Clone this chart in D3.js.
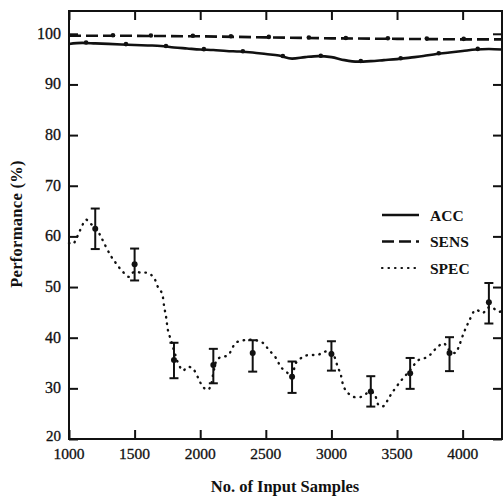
<!DOCTYPE html>
<html>
<head>
<meta charset="utf-8">
<script src="https://cdn.jsdelivr.net/npm/d3@7"></script>
<style>
  body { margin: 0; background: #fff; }
  text { font-family: "Liberation Serif", "Times New Roman", serif; fill: #111; }
</style>
</head>
<body>
<div id="chart-container"></div>
<script>
// tick values
const xTicks = [1000, 1500, 2000, 2500, 3000, 3500, 4000];
const yTicks = [20, 30, 40, 50, 60, 70, 80, 90, 100];

// ACC curve [samples, %]
const accLine = [
  [1000, 98.0], [1100, 98.2], [1200, 98.1], [1300, 98.0], [1400, 97.9],
  [1500, 97.8], [1600, 97.7], [1700, 97.6], [1800, 97.3], [1900, 97.1],
  [2000, 96.9], [2100, 96.8], [2200, 96.6], [2300, 96.5], [2400, 96.3],
  [2500, 96.0], [2600, 95.7], [2700, 95.1], [2800, 95.4], [2900, 95.6],
  [3000, 95.4], [3100, 94.8], [3200, 94.5], [3300, 94.6], [3400, 94.8],
  [3500, 95.0], [3600, 95.3], [3700, 95.6], [3800, 96.0], [3900, 96.3],
  [4000, 96.6], [4100, 96.9], [4200, 97.0], [4300, 96.9]
];
const accMarks = [1130, 1434, 1739, 2028, 2325, 2630, 2919, 3224, 3528, 3818, 4115];

// SENS curve
const sensLine = [
  [1000, 99.6], [1500, 99.6], [2000, 99.5], [2500, 99.3],
  [3000, 99.1], [3500, 99.0], [4000, 98.9], [4300, 98.9]
];
const sensMarks = [1335, 1624, 1944, 2234, 2523, 2828, 3110, 3430, 3727, 4008];

// SPEC curve
const specLine = [
  [1000, 58.7], [1030, 58.5], [1060, 59.8], [1090, 61.5], [1130, 63.3],
  [1160, 62.6], [1200, 61.8], [1236, 60.3], [1267, 58.7], [1320, 56.1],
  [1358, 54.7], [1404, 53.2], [1457, 52.0], [1495, 53.0], [1556, 52.8],
  [1602, 52.8], [1648, 51.8], [1678, 50.0], [1708, 48.8], [1726, 46.0],
  [1740, 44.1], [1754, 41.5], [1777, 39.5], [1800, 37.5], [1838, 34.6],
  [1870, 33.5], [1900, 34.2], [1940, 34.0], [1982, 32.2], [2020, 30.3],
  [2058, 29.7], [2080, 30.5], [2100, 33.0], [2125, 35.5], [2157, 36.2],
  [2210, 36.5], [2272, 39.0], [2333, 39.5], [2400, 39.6], [2477, 39.0],
  [2523, 37.6], [2577, 36.0], [2615, 34.2], [2668, 33.0], [2700, 32.5],
  [2729, 35.0], [2782, 36.2], [2828, 36.6], [2897, 36.6], [2942, 37.2],
  [3000, 37.2], [3049, 34.2], [3072, 32.6], [3094, 30.3], [3125, 29.1],
  [3171, 28.3], [3224, 28.3], [3277, 29.1], [3323, 29.1], [3360, 26.7],
  [3398, 26.5], [3437, 28.1], [3467, 29.3], [3530, 31.5], [3597, 33.5],
  [3665, 35.6], [3733, 36.2], [3810, 38.2], [3856, 38.9], [3900, 37.5],
  [3947, 37.0], [3970, 38.2], [4008, 40.9], [4046, 43.1], [4100, 45.5],
  [4153, 44.9], [4200, 46.0], [4229, 45.9], [4275, 45.1], [4300, 45.3]
];

// SPEC error bars [samples, mean, low, high]
const specBars = [
  [1200, 61.5, 57.5, 65.5],
  [1500, 54.5, 51.3, 57.6],
  [1800, 35.6, 32.0, 39.0],
  [2100, 34.6, 31.0, 37.8],
  [2400, 37.0, 33.3, 39.5],
  [2700, 32.3, 29.1, 35.3],
  [3000, 36.8, 33.5, 39.3],
  [3300, 29.4, 26.4, 32.4],
  [3600, 33.0, 29.9, 36.0],
  [3900, 37.0, 33.4, 40.1],
  [4200, 47.0, 42.8, 50.8]
];

const legendItems = [
  { name: "ACC", dash: null },
  { name: "SENS", dash: "12,5" },
  { name: "SPEC", dash: "0.5,6" }
];

// define canvas
const w = 504;
const h = 500;
const padLeft = 69;
const padRight = 502;
const padTop = 11;
const padBottom = 439;

const svg = d3
  .select("#chart-container")
  .append("svg")
  .attr("width", w)
  .attr("height", h);

const xScale = d3.scaleLinear().domain([1000, 4300]).range([padLeft, padRight]);
const yScale = d3.scaleLinear().domain([20, 104.5]).range([padBottom, padTop]);

// interpolate y on a curve for the markers
function yOn(curve, x) {
  const i = d3.bisector((d) => d[0]).left(curve, x);
  if (i <= 0) return curve[0][1];
  if (i >= curve.length) return curve[curve.length - 1][1];
  const a = curve[i - 1];
  const b = curve[i];
  return a[1] + ((b[1] - a[1]) * (x - a[0])) / (b[0] - a[0]);
}

const plot = svg.append("g");

const line = d3
  .line()
  .x((d) => xScale(d[0]))
  .y((d) => yScale(d[1]));

// ACC
plot
  .append("path")
  .datum(accLine)
  .attr("d", line.curve(d3.curveMonotoneX))
  .attr("fill", "none")
  .attr("stroke", "#111")
  .attr("stroke-width", 2.6);

plot
  .selectAll(".acc-mark")
  .data(accMarks)
  .enter()
  .append("circle")
  .attr("cx", (d) => xScale(d))
  .attr("cy", (d) => yScale(yOn(accLine, d)) - 0.5)
  .attr("r", 2.3)
  .attr("fill", "#111");

// SENS
plot
  .append("path")
  .datum(sensLine)
  .attr("d", line.curve(d3.curveLinear))
  .attr("fill", "none")
  .attr("stroke", "#111")
  .attr("stroke-width", 2.6)
  .attr("stroke-dasharray", "12,5");

plot
  .selectAll(".sens-mark")
  .data(sensMarks)
  .enter()
  .append("circle")
  .attr("cx", (d) => xScale(d))
  .attr("cy", (d) => yScale(yOn(sensLine, d)) - 0.5)
  .attr("r", 2.3)
  .attr("fill", "#111");

// SPEC
plot
  .append("path")
  .datum(specLine)
  .attr("d", line.curve(d3.curveCatmullRom))
  .attr("fill", "none")
  .attr("stroke", "#111")
  .attr("stroke-width", 2.4)
  .attr("stroke-linecap", "round")
  .attr("stroke-dasharray", "0.5,6");

// error bars
const bars = plot
  .selectAll(".bar")
  .data(specBars)
  .enter()
  .append("g")
  .attr("class", "bar");

bars
  .append("line")
  .attr("x1", (d) => xScale(d[0]))
  .attr("x2", (d) => xScale(d[0]))
  .attr("y1", (d) => yScale(d[2]))
  .attr("y2", (d) => yScale(d[3]))
  .attr("stroke", "#111")
  .attr("stroke-width", 2);

bars
  .selectAll(".cap")
  .data((d) => [
    [d[0], d[2]],
    [d[0], d[3]]
  ])
  .enter()
  .append("line")
  .attr("x1", (d) => xScale(d[0]) - 4.5)
  .attr("x2", (d) => xScale(d[0]) + 4.5)
  .attr("y1", (d) => yScale(d[1]))
  .attr("y2", (d) => yScale(d[1]))
  .attr("stroke", "#111")
  .attr("stroke-width", 2);

bars
  .append("circle")
  .attr("cx", (d) => xScale(d[0]))
  .attr("cy", (d) => yScale(d[1]))
  .attr("r", 3)
  .attr("fill", "#111");

// axes with inward ticks on all four sides
const tickLen = 9;

svg
  .append("g")
  .attr("transform", "translate(0," + padBottom + ")")
  .call(d3.axisTop(xScale).tickValues(xTicks).tickSize(tickLen).tickFormat(""))
  .call((g) => g.select(".domain").remove());

svg
  .append("g")
  .attr("transform", "translate(0," + padTop + ")")
  .call(d3.axisBottom(xScale).tickValues(xTicks).tickSize(tickLen).tickFormat(""))
  .call((g) => g.select(".domain").remove());

svg
  .append("g")
  .attr("transform", "translate(" + padLeft + ",0)")
  .call(d3.axisRight(yScale).tickValues(yTicks).tickSize(tickLen).tickFormat(""))
  .call((g) => g.select(".domain").remove());

svg
  .append("g")
  .attr("transform", "translate(" + padRight + ",0)")
  .call(d3.axisLeft(yScale).tickValues(yTicks).tickSize(tickLen).tickFormat(""))
  .call((g) => g.select(".domain").remove());

svg.selectAll(".tick line").attr("stroke", "#111").attr("stroke-width", 2);

// frame
svg
  .append("rect")
  .attr("x", padLeft)
  .attr("y", padTop)
  .attr("width", padRight - padLeft)
  .attr("height", padBottom - padTop)
  .attr("fill", "none")
  .attr("stroke", "#111")
  .attr("stroke-width", 2);

// tick labels
svg
  .selectAll(".xlabel")
  .data(xTicks)
  .enter()
  .append("text")
  .attr("x", (d) => xScale(d))
  .attr("y", padBottom + 19.5)
  .attr("text-anchor", "middle")
  .style("font-size", "15.5px")
  .style("stroke", "#111")
  .style("stroke-width", 0.3)
  .text((d) => d);

svg
  .selectAll(".ylabel")
  .data(yTicks)
  .enter()
  .append("text")
  .attr("x", padLeft - 8)
  .attr("y", (d) => yScale(d) + (d === 20 ? 2 : 5))
  .attr("text-anchor", "end")
  .style("font-size", (d) => (d === 20 ? "15px" : "16px"))
  .style("stroke", "#111")
  .style("stroke-width", 0.3)
  .text((d) => d);

// axis titles
svg
  .append("text")
  .attr("x", 285)
  .attr("y", 492)
  .attr("text-anchor", "middle")
  .style("font-size", "16.5px")
  .style("font-weight", "bold")
  .text("No. of Input Samples");

svg
  .append("text")
  .attr("transform", "translate(22,224) rotate(-90)")
  .attr("text-anchor", "middle")
  .style("font-size", "16.5px")
  .style("font-weight", "bold")
  .style("letter-spacing", "0.3px")
  .text("Performance (%)");

// legend
const legend = svg
  .selectAll(".legend")
  .data(legendItems)
  .enter()
  .append("g")
  .attr("transform", (d, i) => "translate(382," + (215 + i * 26.5) + ")");

legend
  .append("line")
  .attr("x1", 0)
  .attr("x2", 37)
  .attr("stroke", "#111")
  .attr("stroke-width", (d) => (d.name === "SPEC" ? 2.2 : 2.4))
  .attr("stroke-linecap", (d) => (d.name === "SPEC" ? "round" : "butt"))
  .attr("stroke-dasharray", (d) => d.dash);

legend
  .append("text")
  .attr("x", 48)
  .attr("y", 5.5)
  .style("font-size", "15.5px")
  .style("font-weight", "bold")
  .text((d) => d.name);
</script>
</body>
</html>
